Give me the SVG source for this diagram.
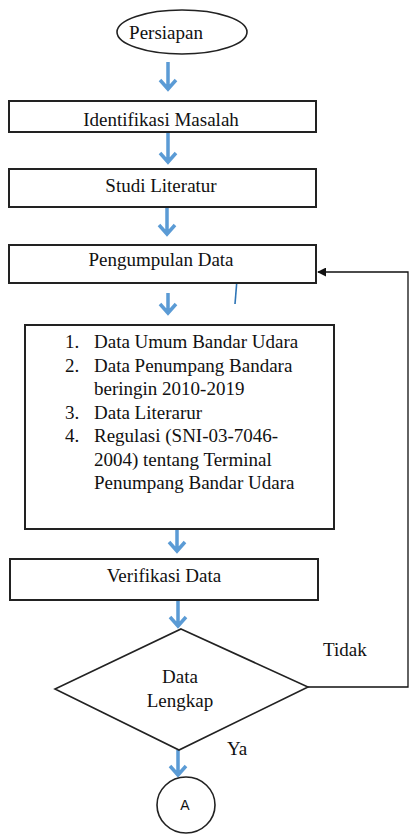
<svg xmlns="http://www.w3.org/2000/svg" width="409" height="834" viewBox="0 0 409 834">
<defs>
<style>
.box{fill:#fff;stroke:#222;stroke-width:2}
.shape{fill:#fff;stroke:#222;stroke-width:1.6}
.t{font-family:'Liberation Serif','Times New Roman',serif;font-size:19px;fill:#111}
.c{text-anchor:middle}
.arr{fill:none;stroke:#5B9BD5;stroke-width:3.5;stroke-linejoin:miter;stroke-linecap:butt}
.fb{fill:none;stroke:#111;stroke-width:1.3}
</style>
<marker id="ah" viewBox="0 0 10 10" refX="9" refY="5" markerWidth="9" markerHeight="9" markerUnits="userSpaceOnUse" orient="auto">
<path d="M0,0 L10,5 L0,10 Z" fill="#111"/>
</marker>
</defs>
<g id="connectors">
<path class="arr" d="M168,62 V89 M160,80 L168,89 L176,80"/>
<path class="arr" d="M168,133 V162 M160,153 L168,162 L176,153"/>
<path class="arr" d="M167,207 V234 M159,225 L167,234 L175,225"/>
<path class="arr" d="M168,293 V313 M160,304 L168,313 L176,304"/>
<path class="arr" d="M177,529 V551 M169,542 L177,551 L185,542"/>
<path class="arr" d="M178,600 V626 M170,617 L178,626 L186,617"/>
<path class="arr" d="M178,750 V775 M170,766 L178,775 L186,766"/>
<path class="fb" d="M308,687 H408 V272 H318" marker-end="url(#ah)"/>
<line x1="238" y1="267" x2="235" y2="304" stroke="#2E75B6" stroke-width="1.6"/>
<text class="t" x="323" y="656">Tidak</text>
<text class="t" x="227" y="755">Ya</text>
</g>
<g id="persiapan">
<ellipse class="shape" cx="182" cy="32" rx="65" ry="22"/>
<text class="t c" x="166" y="39">Persiapan</text>
</g>
<g id="identifikasi">
<rect class="box" x="9" y="101" width="307" height="31"/>
<text class="t c" x="161" y="126">Identifikasi Masalah</text>
</g>
<g id="studi">
<rect class="box" x="9" y="169" width="307" height="38"/>
<text class="t c" x="161" y="192">Studi Literatur</text>
</g>
<g id="pengumpulan">
<rect class="box" x="9" y="245" width="307" height="38"/>
<text class="t c" x="161" y="266">Pengumpulan Data</text>
</g>
<g id="datalist">
<rect class="box" x="25" y="325" width="309" height="204"/>
<text class="t" x="65" y="348">1.</text>
<text class="t" x="94" y="348">Data Umum Bandar Udara</text>
<text class="t" x="65" y="371.5">2.</text>
<text class="t" x="94" y="371.5">Data Penumpang Bandara</text>
<text class="t" x="94" y="395">beringin 2010-2019</text>
<text class="t" x="65" y="418.5">3.</text>
<text class="t" x="94" y="418.5">Data Literarur</text>
<text class="t" x="65" y="442">4.</text>
<text class="t" x="94" y="442">Regulasi (SNI-03-7046-</text>
<text class="t" x="94" y="465.5">2004) tentang Terminal</text>
<text class="t" x="94" y="489">Penumpang Bandar Udara</text>
</g>
<g id="verifikasi">
<rect class="box" x="10" y="559" width="308" height="41"/>
<text class="t c" x="164" y="582">Verifikasi Data</text>
</g>
<g id="lengkap">
<polygon class="shape" points="181,629 308,687 179,750 55,689"/>
<text class="t c" x="180" y="683">Data</text>
<text class="t c" x="180" y="707">Lengkap</text>
</g>
<g id="connectorA">
<ellipse class="shape" cx="186" cy="805" rx="29" ry="28"/>
<text x="185" y="810" text-anchor="middle" font-family="'Liberation Sans', Arial, sans-serif" font-size="14" fill="#111">A</text>
</g>
</svg>
